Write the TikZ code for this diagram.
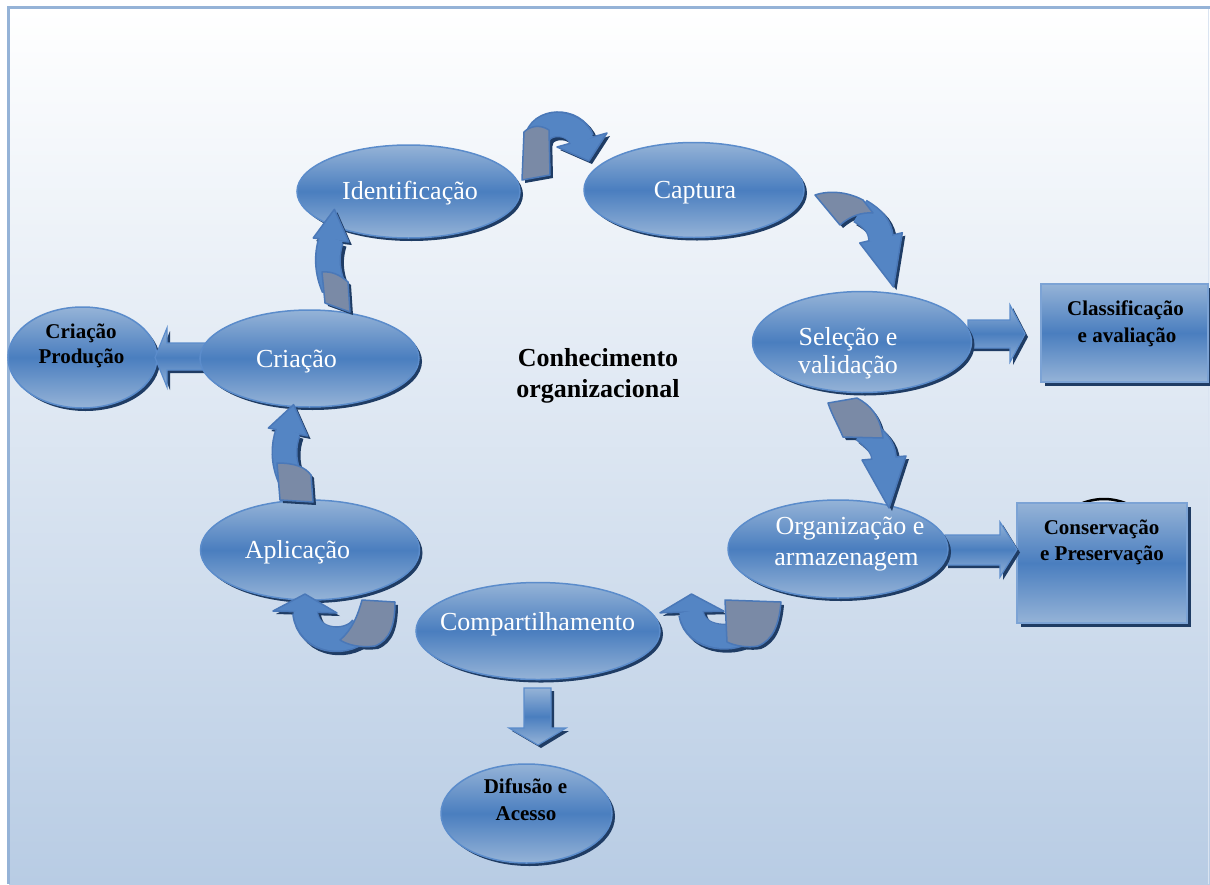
\documentclass[tikz,border=0pt]{standalone}
\usepackage{fontspec}
\setmainfont{Liberation Serif}
\usetikzlibrary{shapes.geometric,shadows}
\definecolor{eLight}{HTML}{95B3D7}
\definecolor{eDark}{HTML}{4A7EBF}
\definecolor{eLine}{HTML}{5B8CCB}
\definecolor{eShadow}{HTML}{1F3C64}
\definecolor{bandBlue}{HTML}{5485C4}
\definecolor{bandGrey}{HTML}{7A8AA6}
\definecolor{bandLine}{HTML}{4A78B8}
\definecolor{bgBot}{HTML}{B8CCE4}
\definecolor{frameC}{HTML}{95B3D7}
\tikzset{
  oval/.style={ellipse, draw=eLine, line width=1.5pt, top color=eLight, bottom color=eLight, middle color=eDark, inner sep=0pt,
    drop shadow={shadow xshift=3pt, shadow yshift=-3pt, fill=eShadow, opacity=1}},
  box/.style={rectangle, draw=eLine!80!white, line width=1.5pt, top color=eLight, bottom color=eLight, middle color=eDark, inner sep=0pt,
    drop shadow={shadow xshift=4pt, shadow yshift=-4pt, fill=eShadow, opacity=1}},
  blockar/.style={draw=eLine, line width=1.2pt, line join=miter, top color=eLight, bottom color=eLight, middle color=eDark,
    drop shadow={shadow xshift=3pt, shadow yshift=-3pt, fill=eShadow, opacity=1}},
  wtxt/.style={text=white, font=\fontsize{26}{28}\selectfont, inner sep=0pt, anchor=base},
  btxt/.style={text=black, font=\bfseries\fontsize{21}{23}\selectfont, inner sep=0pt, anchor=base},
  ctxt/.style={text=black, font=\bfseries\fontsize{26}{28}\selectfont, inner sep=0pt, anchor=base},
}
% #1 grey (back side) polygon, #2 blue band spine, #3 barb, #4 tip, #5 barb
\newcommand\curvedarrow[5]{%
  \begin{scope}[shift={(3,3)}]
    \fill[eShadow] #1;
    \draw[eShadow, line width=26pt] #2;
    \fill[eShadow] #3 -- #4 -- #5 -- cycle;
  \end{scope}
  \draw[bandLine, line width=26pt] #2;
  \filldraw[fill=bandBlue, draw=bandLine, line width=1.5pt, line join=round] #3 -- #4 -- #5 -- cycle;
  \draw[bandBlue, line width=23pt, shorten >=-2pt] #2;
  \filldraw[fill=bandGrey, draw=bandLine, line width=1.5pt, line join=round] #1;
}
\begin{document}
\begin{tikzpicture}[x=1pt,y=-1pt]
\useasboundingbox (0,0) rectangle (1210,884);
\fill[white] (0,0) rectangle (1210,884);
\shade[top color=white, bottom color=bgBot] (9,9) rectangle (1210,884);
\fill[frameC] (6.5,6) rectangle (9.5,884);
\fill[frameC] (6.5,6) rectangle (1210,9);
\draw[frameC!35, line width=1pt] (1208.5,9) -- (1208.5,884);

% outer nodes
\node[oval, minimum width=149pt, minimum height=101pt] (cprod) at (82.5,357.5) {};
\node[oval, minimum width=171pt, minimum height=99pt] (difu) at (526.5,813.5) {};
\draw[black, line width=2.5pt] (1078,505) .. controls (1095,497) and (1113,497) .. (1130,505);
\node[box, minimum width=167pt, minimum height=98pt] (classif) at (1124.5,333) {};
\node[box, minimum width=170pt, minimum height=120pt] (conserv) at (1102,563) {};

% straight block arrows
\coordinate (a1) at (205,343);
\path[blockar] (a1) -- (167,343) -- (167,328) -- (155,357.5) -- (167,387) -- (167,370) -- (205,370) -- cycle;
\coordinate (a2) at (968,320);
\path[blockar] (a2) -- (1010,320) -- (1010,305) -- (1025,334) -- (1010,362) -- (1010,348) -- (968,348) -- cycle;
\coordinate (a3) at (945,535);
\path[blockar] (a3) -- (1000,535) -- (1000,522) -- (1017,549.5) -- (1000,577) -- (1000,565) -- (945,565) -- cycle;
\coordinate (a4) at (524,688);
\path[blockar] (a4) -- (551,688) -- (551,728) -- (566,728) -- (538,745) -- (509,728) -- (524,728) -- cycle;

% cycle nodes
\node[oval, minimum width=223pt, minimum height=93pt] (ident) at (408.5,191.5) {};
\node[oval, minimum width=220pt, minimum height=95pt] (capt) at (694,190) {};
\node[oval, minimum width=219pt, minimum height=101pt] (selec) at (862,342) {};
\node[oval, minimum width=220pt, minimum height=98pt] (organ) at (838,549) {};
\node[oval, minimum width=244pt, minimum height=97pt] (compart) at (538,631) {};
\node[oval, minimum width=219pt, minimum height=100pt] (aplic) at (310,550) {};
\node[oval, minimum width=219pt, minimum height=97pt] (criac) at (309.5,358.5) {};

% curved arrows
% identificacao -> captura
\curvedarrow{(522,180) -- (550,175) -- (549,130) .. controls (540,124) and (530,126) .. (524,132) -- cycle}
  {(537,140) .. controls (539,120) and (574,118) .. (582,140)}{(557,147)}{(589,161)}{(607,133)}
% captura -> selecao
\curvedarrow{(815,195) -- (840,225) .. controls (850,216) and (862,212) .. (873,213) -- (863,200) .. controls (848,192) and (830,190) .. cycle}
  {(860,211) .. controls (874,219) and (880,227) .. (881,238)}{(859.7,243)}{(893.5,287)}{(902.3,232.7)}
% selecao -> organizacao
\curvedarrow{(828,403) -- (857,398) .. controls (870,405) and (880,415) .. (883,438) -- (843,437) .. controls (838,425) and (832,415) .. cycle}
  {(864,430) .. controls (876,440) and (883,446) .. (884,458)}{(862,460)}{(889,508)}{(906,456)}
% organizacao -> compartilhamento
\curvedarrow{(725,600) -- (781,602) .. controls (779,625) and (773,640) .. (758,646) .. controls (748,648) and (735,646) .. (727,642) -- cycle}
  {(745,630) .. controls (738,640) and (695,642) .. (691,613)}{(660,612.8)}{(691.5,594)}{(724,611.2)}
% compartilhamento -> aplicacao
\curvedarrow{(362,600) -- (395,602) .. controls (395,625) and (390,640) .. (375,646) .. controls (360,648) and (348,645) .. (340,640) .. controls (352,630) and (358,615) .. cycle}
  {(362,628) .. controls (350,645) and (308,645) .. (305,612)}{(273,611)}{(305,594)}{(337,613)}
% aplicacao -> criacao
\curvedarrow{(277,463) -- (280,500) -- (313,502) -- (311,475) .. controls (305,467) and (295,463) .. cycle}
  {(290,478) .. controls (283,462) and (283,446) .. (288,432)}{(268.4,428)}{(293.6,404.6)}{(307.6,436)}
% criacao -> identificacao
\curvedarrow{(322,272) -- (325,303) -- (350,312) -- (348,282) .. controls (340,275) and (332,271) .. cycle}
  {(334,288) .. controls (327,272) and (326,256) .. (331,240)}{(313.2,238)}{(334.4,209.3)}{(348.8,242)}

% texts
\node[wtxt] (t-ident) at (410,199) {Identificação};
\node[wtxt] (t-capt) at (695,198) {Captura};
\node[wtxt] (t-sel1) at (848,345) {Seleção e};
\node[wtxt] (t-sel2) at (848,373) {validação};
\node[wtxt] (t-org1) at (850,534) {Organização e};
\node[wtxt] (t-org2) at (846.5,565) {armazenagem};
\node[wtxt] (t-comp) at (537.5,630) {Compartilhamento};
\node[wtxt] (t-aplic) at (297.5,558) {Aplicação};
\node[wtxt] (t-criac) at (296.5,367) {Criação};
\node[btxt] (t-cp1) at (81,338) {Criação};
\node[btxt] (t-cp2) at (81.5,363) {Produção};
\node[btxt] (t-cl1) at (1125.5,315) {Classificação};
\node[btxt] (t-cl2) at (1127,342) {e avaliação};
\node[btxt] (t-co1) at (1101.5,534) {Conservação};
\node[btxt] (t-co2) at (1102,560) {e Preservação};
\node[btxt] (t-di1) at (525.5,793) {Difusão e};
\node[btxt] (t-di2) at (526,820) {Acesso};
\node[ctxt] (t-k1) at (598,366) {Conhecimento};
\node[ctxt] (t-k2) at (598,397) {organizacional};
\end{tikzpicture}
\end{document}
